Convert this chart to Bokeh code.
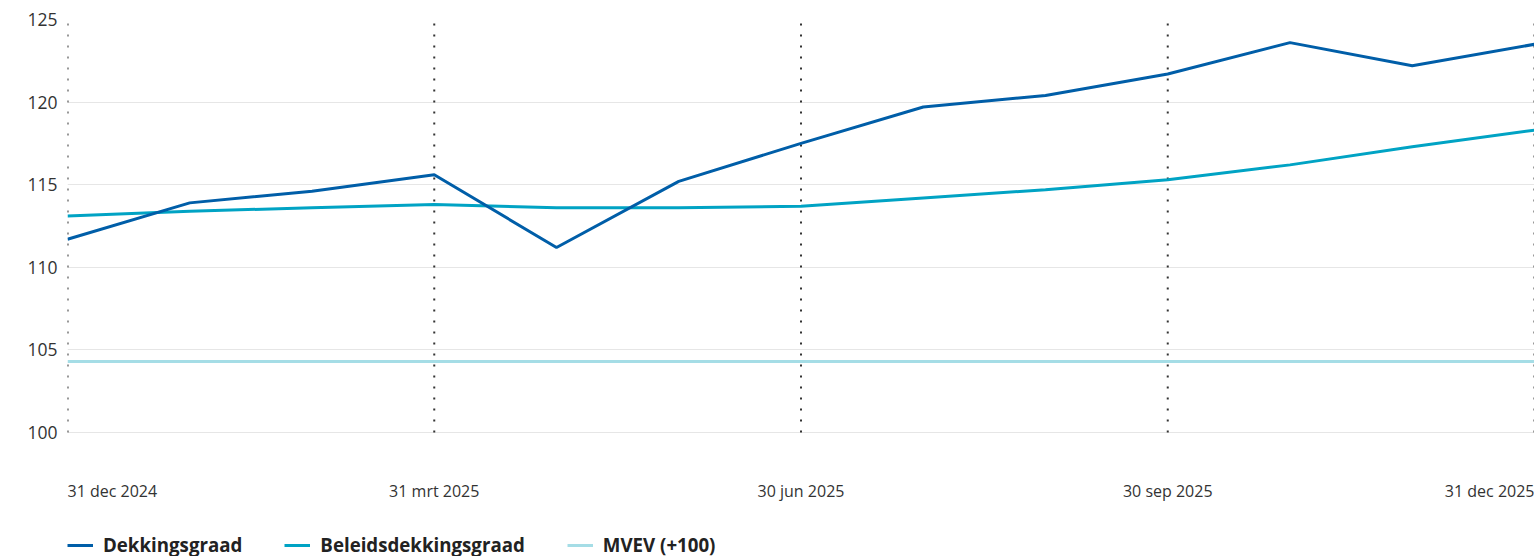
from bokeh.plotting import figure
from bokeh.models import FixedTicker, Legend, LegendItem, Label, Range1d
from bokeh.embed import file_html
from bokeh.resources import INLINE

# Data (monthly, 31 dec 2024 .. 31 dec 2025)
months = list(range(13))
dekkingsgraad = [111.7, 113.9, 114.6, 115.6, 111.2, 115.2, 117.5, 119.7, 120.4, 121.7, 123.6, 122.2, 123.5]
beleidsdekkingsgraad = [113.1, 113.4, 113.6, 113.8, 113.6, 113.6, 113.7, 114.2, 114.7, 115.3, 116.2, 117.3, 118.3]
mvev = [104.3] * 13
tick_positions = [0, 3, 6, 9, 12]
tick_labels = ["31 dec 2024", "31 mrt 2025", "30 jun 2025", "30 sep 2025", "31 dec 2025"]
y_ticks = [100, 105, 110, 115, 120, 125]

FONT = "Open Sans"
TXT = "#333333"

W, H = 1534, 556
TOP, LEFT = 19, 67
PLOT_H = 413  # pixels between 125 and 100
frame_h = H - TOP
y_min, y_max = 100, 125
px_per_unit = PLOT_H / (y_max - y_min)
y_bottom = y_max - frame_h / px_per_unit

p = figure(width=W, height=H, output_backend="svg", toolbar_location=None,
           x_range=Range1d(0, 12), y_range=Range1d(y_bottom, y_max),
           min_border_left=LEFT, min_border_right=0, min_border_top=TOP, min_border_bottom=0)
p.outline_line_color = None
p.background_fill_color = "white"
p.border_fill_color = "white"
p.xaxis.visible = False
p.xgrid.visible = False

# horizontal grid
p.ygrid.ticker = FixedTicker(ticks=y_ticks)
p.ygrid.grid_line_color = "#e6e6e6"
p.ygrid.grid_line_width = 1

# vertical dotted quarter lines (from 100 to 125)
p.segment(x0=tick_positions, y0=[y_min] * len(tick_positions),
          x1=tick_positions, y1=[y_max] * len(tick_positions),
          line_color="#333333", line_width=2, line_dash="2 9")

# y axis
p.yaxis.ticker = FixedTicker(ticks=y_ticks)
p.yaxis.axis_line_color = None
p.yaxis.major_tick_line_color = None
p.yaxis.minor_tick_line_color = None
p.yaxis.major_tick_out = 0
p.yaxis.major_tick_in = 0
p.yaxis.major_label_standoff = 10
p.yaxis.major_label_text_font = FONT
p.yaxis.major_label_text_font_size = "17.5px"
p.yaxis.major_label_text_color = TXT

# x tick labels
y_lab = y_max - (490 - TOP) / px_per_unit
for i, (pos, lab) in enumerate(zip(tick_positions, tick_labels)):
    align = "left" if i == 0 else ("right" if i == len(tick_labels) - 1 else "center")
    p.add_layout(Label(x=pos, y=y_lab, text=lab, text_align=align, text_baseline="middle",
                       text_font=FONT, text_font_size="16px", text_color=TXT))

r3 = p.line(months, mvev, line_color="#a5dde6", line_width=3)
r2 = p.line(months, beleidsdekkingsgraad, line_color="#00a3c4", line_width=3)
r1 = p.line(months, dekkingsgraad, line_color="#005ea8", line_width=3)

legend = Legend(items=[LegendItem(label="Dekkingsgraad", renderers=[r1]),
                       LegendItem(label="Beleidsdekkingsgraad", renderers=[r2]),
                       LegendItem(label="MVEV (+100)", renderers=[r3])],
                orientation="horizontal", location=(0, -1),
                glyph_width=26, glyph_height=20, label_standoff=10, spacing=42,
                padding=0, margin=0, label_height=20,
                label_text_font=FONT, label_text_font_style="bold",
                label_text_font_size="18.7px", label_text_color="#222222",
                background_fill_alpha=0, border_line_color=None)
p.add_layout(legend, "center")

open("out.html", "w").write(file_html(p, INLINE))
